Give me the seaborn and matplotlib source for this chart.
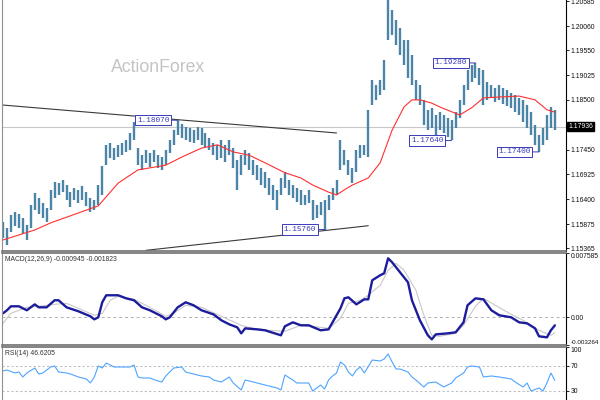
import numpy as np
import pandas as pd
import matplotlib
matplotlib.use("Agg")
import matplotlib.pyplot as plt
import seaborn as sns

# ---- price bars (4h) ----
bar_high = [1.1592, 1.1579, 1.1607, 1.1613, 1.1609, 1.1600, 1.1586, 1.1628, 1.1653, 1.1643,
            1.1632, 1.1622, 1.1660, 1.1677, 1.1674, 1.1681, 1.1670, 1.1655, 1.1664, 1.1660,
            1.1668, 1.1655, 1.1643, 1.1638, 1.1670, 1.1710, 1.1755, 1.1759, 1.1748, 1.1755,
            1.1759, 1.1765, 1.1780, 1.1803, 1.1748, 1.1733, 1.1744, 1.1738, 1.1744, 1.1733,
            1.1729, 1.1744, 1.1765, 1.1786, 1.1807, 1.1799, 1.1793, 1.1791, 1.1786, 1.1793,
            1.1791, 1.1780, 1.1769, 1.1759, 1.1755, 1.1765, 1.1755, 1.1765, 1.1748, 1.1723,
            1.1733, 1.1744, 1.1738, 1.1723, 1.1712, 1.1706, 1.1698, 1.1685, 1.1670, 1.1660,
            1.1685, 1.1698, 1.1681, 1.1670, 1.1664, 1.1660, 1.1649, 1.1660, 1.1638, 1.1628,
            1.1634, 1.1638, 1.1649, 1.1664, 1.1681, 1.1765, 1.1744, 1.1723, 1.1706, 1.1744,
            1.1755, 1.1755, 1.1829, 1.1892, 1.1881, 1.1892, 1.1934, 1.2060, 1.2040, 1.2019,
            1.2002, 1.1976, 1.1976, 1.1945, 1.1892, 1.1881, 1.1850, 1.1829, 1.1833, 1.1818,
            1.1824, 1.1818, 1.1812, 1.1807, 1.1824, 1.1850, 1.1881, 1.1913, 1.1924, 1.1928,
            1.1917, 1.1913, 1.1888, 1.1881, 1.1875, 1.1881, 1.1875, 1.1871, 1.1864, 1.1860,
            1.1854, 1.1850, 1.1839, 1.1824, 1.1797, 1.1776, 1.1791, 1.1818, 1.1835, 1.1829]
bar_low = [1.1558, 1.1543, 1.1571, 1.1583, 1.1579, 1.1567, 1.1554, 1.1579, 1.1617, 1.1609,
           1.1600, 1.1592, 1.1617, 1.1643, 1.1649, 1.1655, 1.1638, 1.1624, 1.1638, 1.1632,
           1.1638, 1.1626, 1.1613, 1.1617, 1.1628, 1.1649, 1.1712, 1.1727, 1.1723, 1.1729,
           1.1733, 1.1740, 1.1744, 1.1765, 1.1712, 1.1702, 1.1717, 1.1708, 1.1719, 1.1706,
           1.1702, 1.1712, 1.1738, 1.1755, 1.1776, 1.1769, 1.1765, 1.1761, 1.1759, 1.1765,
           1.1755, 1.1750, 1.1744, 1.1733, 1.1723, 1.1727, 1.1719, 1.1733, 1.1706, 1.1660,
           1.1691, 1.1712, 1.1702, 1.1691, 1.1681, 1.1670, 1.1664, 1.1649, 1.1638, 1.1617,
           1.1649, 1.1664, 1.1649, 1.1643, 1.1634, 1.1628, 1.1628, 1.1632, 1.1596, 1.1600,
           1.1607, 1.1576, 1.1617, 1.1638, 1.1649, 1.1702, 1.1712, 1.1691, 1.1674, 1.1698,
           1.1727, 1.1733, 1.1729, 1.1839, 1.1850, 1.1860, 1.1871, 1.1976, 1.1987, 1.1966,
           1.1945, 1.1924, 1.1896, 1.1881, 1.1850, 1.1839, 1.1797, 1.1786, 1.1791, 1.1776,
           1.1786, 1.1780, 1.1772, 1.1765, 1.1791, 1.1812, 1.1839, 1.1871, 1.1888, 1.1896,
           1.1881, 1.1839, 1.1850, 1.1854, 1.1845, 1.1850, 1.1841, 1.1837, 1.1833, 1.1824,
           1.1818, 1.1803, 1.1791, 1.1776, 1.1755, 1.1740, 1.1755, 1.1765, 1.1791, 1.1786]
last_close = 1.17936

# moving average (red)
ma_idx = [0, 8, 12, 16, 24, 29, 34, 41, 45, 50, 54, 58, 62, 66, 71, 75, 78, 82, 84, 86,
          88, 92, 95, 98, 101, 103, 105, 108, 110, 115, 118, 121, 125, 130, 134, 137, 139]
ma_val = [1.1554, 1.1575, 1.1590, 1.1602, 1.1626, 1.1674, 1.1702, 1.1712, 1.1729, 1.1748,
          1.1755, 1.1740, 1.1733, 1.1717, 1.1696, 1.1685, 1.1670, 1.1655, 1.1649, 1.1660,
          1.1670, 1.1685, 1.1717, 1.1786, 1.1835, 1.1850, 1.1850, 1.1843, 1.1835, 1.1818,
          1.1833, 1.1854, 1.1856, 1.1858, 1.1850, 1.1829, 1.1824]

# trend lines
upper_idx = [0, 84]
upper_val = [1.1839, 1.1780]
lower_idx = [36, 92]
lower_val = [1.1532, 1.1584]

# swing labels
swing_text = ["1.18070", "1.15760", "1.17640", "1.19280", "1.17400"]
swing_idx = [44, 81, 113, 119, 135]
swing_val = [1.1807, 1.1576, 1.1764, 1.1928, 1.1740]

price_ticks = [1.20585, 1.20060, 1.19550, 1.19025, 1.18500,
               1.17450, 1.16925, 1.16400, 1.15875, 1.15365]

# MACD(12,26,9)
macd_idx = [0, 1, 2, 4, 6, 8, 9, 11, 13, 14, 16, 19, 22, 23, 24, 25, 26, 29, 31, 33,
            35, 37, 40, 41, 42, 44, 46, 48, 50, 53, 55, 57, 59, 60, 61, 64, 66, 70, 71, 73,
            75, 77, 80, 82, 83, 85, 86, 87, 89, 91, 92, 93, 95, 96, 97, 98, 100, 102, 103, 105,
            107, 108, 109, 112, 114, 116, 117, 119, 121, 123, 125, 128, 130, 132, 134, 135, 137, 138, 139]
macd_val = [0.00047, 0.00083, 0.00130, 0.00130, 0.00083, 0.00153, 0.00118, 0.00118, 0.00201, 0.00201,
            0.00118, 0.00071, 0.00012, -0.00024, 0.0, 0.00177, 0.00260, 0.00260, 0.00224, 0.00201,
            0.00118, 0.00083, 0.00012, -0.00024, 0.0, 0.00118, 0.00177, 0.00142, 0.00083, 0.00035,
            -0.00035, -0.00083, -0.00118, -0.00189, -0.00130, -0.00142, -0.00153, -0.00212, -0.00106, -0.00059,
            -0.00094, -0.00094, -0.00153, -0.00142, -0.00059, 0.00106, 0.00224, 0.00236, 0.00153, 0.00212,
            0.00212, 0.00437, 0.00496, 0.00519, 0.00696, 0.00649, 0.00531, 0.00413, 0.00201, -0.00035,
            -0.00212, -0.00260, -0.00201, -0.00189, -0.00177, -0.00059, 0.00142, 0.00224, 0.00212, 0.00083,
            0.00024, 0.0, -0.00059, -0.00071, -0.00130, -0.00224, -0.00236, -0.00153, -0.000945]
signal_idx = [0, 2, 6, 9, 13, 16, 19, 23, 25, 27, 29, 33, 37, 41, 43, 46, 50, 55, 60, 63,
              67, 71, 75, 80, 82, 85, 87, 90, 92, 95, 97, 99, 101, 104, 106, 108, 110, 114, 116, 119,
              121, 124, 128, 131, 135, 138, 139]
signal_val = [-0.00071, 0.00047, 0.00118, 0.00130, 0.00153, 0.00165, 0.00106, 0.00024, 0.00047, 0.00201,
              0.00248, 0.00212, 0.00118, 0.00012, 0.00047, 0.00142, 0.00118, 0.00012, -0.00094, -0.00130,
              -0.00153, -0.00165, -0.00094, -0.00118, -0.00130, -0.00012, 0.00165, 0.00201, 0.00260, 0.00378,
              0.00555, 0.00637, 0.00555, 0.00319, 0.00024, -0.00212, -0.00224, -0.00189, -0.00094, 0.00130,
              0.00224, 0.00142, 0.00035, -0.00035, -0.00153, -0.00212, -0.001823]
macd_ticks = [0.007585, 0.0, -0.003264]
macd_tick_labels = ["0.007585", "0.00", "-0.003264"]

# RSI(14)
rsi_idx = [0, 1, 3, 4, 5, 6, 8, 9, 10, 12, 13, 14, 16, 17, 19, 21, 22, 23, 24, 25,
           26, 28, 30, 32, 33, 34, 35, 37, 39, 40, 41, 43, 45, 46, 48, 50, 52, 53, 55, 57,
           58, 60, 61, 64, 66, 69, 70, 71, 73, 74, 75, 77, 78, 80, 81, 82, 83, 84, 85, 86,
           87, 88, 89, 90, 91, 93, 95, 96, 97, 98, 99, 100, 102, 103, 104, 106, 107, 109, 111, 113,
           114, 116, 117, 118, 120, 121, 123, 125, 128, 129, 131, 132, 133, 135, 136, 137, 138, 139]
rsi_val = [61.6, 63.2, 58.4, 60.0, 52.0, 58.4, 66.4, 56.8, 58.4, 68.0, 69.6, 60.0, 58.4, 56.8, 52.0,
           48.8, 42.4, 52.0, 69.6, 66.4, 74.4, 68.0, 68.0, 68.0, 71.2, 52.0, 50.4, 50.4, 45.6, 44.0,
           53.6, 66.4, 68.0, 60.0, 56.8, 53.6, 52.0, 47.2, 44.0, 52.0, 42.4, 31.2, 47.2, 42.4, 39.2,
           34.4, 31.2, 55.2, 47.2, 42.4, 42.4, 42.4, 29.6, 39.2, 32.8, 47.2, 53.6, 58.4, 76.0, 71.2,
           60.0, 53.6, 63.2, 68.0, 58.4, 79.2, 77.6, 80.8, 88.8, 76.0, 64.8, 64.8, 60.0, 52.0, 47.2,
           36.0, 42.4, 44.0, 36.0, 42.4, 50.4, 58.4, 68.0, 69.6, 68.0, 52.0, 53.6, 52.0, 48.8, 44.0,
           36.0, 42.4, 29.6, 34.4, 29.6, 42.4, 58.4, 46.62]
rsi_ticks = [100, 70, 30]

# ---- styling ----
sns.set_theme(style="white")
plt.rcParams['font.family'] = ['Liberation Sans', 'DejaVu Sans']

bar_color = "#4a84a6"
box_color = "#3a3ab8"
tick_size = 4.9

fig = plt.figure(figsize=(6, 4), dpi=100)
ax = fig.add_axes([2 / 600, 149 / 400, 564 / 600, 251 / 400])
ax_macd = fig.add_axes([2 / 600, 55 / 400, 564 / 600, 92 / 400], sharex=ax)
ax_rsi = fig.add_axes([2 / 600, 0, 564 / 600, 53 / 400], sharex=ax)

bars = pd.DataFrame({"idx": np.arange(len(bar_high)), "high": bar_high, "low": bar_low})

# price panel
ax.axhline(last_close, color="#c8c8c8", lw=0.8, zorder=0)
fig.text(0.263, 0.8325, "ActionForex", ha="center", va="center",
         fontsize=12.7, color="#c4c4c4")
ax.vlines(bars["idx"], bars["low"], bars["high"], color=bar_color, lw=1.7, zorder=2)
sns.lineplot(x=ma_idx, y=ma_val, ax=ax, color="#ff3030", lw=0.8, zorder=3)
sns.lineplot(x=upper_idx, y=upper_val, ax=ax, color="#3a3a3a", lw=0.8, zorder=1)
sns.lineplot(x=lower_idx, y=lower_val, ax=ax, color="#3a3a3a", lw=0.8, zorder=1)

for txt, i, v in zip(swing_text, swing_idx, swing_val):
    ax.annotate(txt, xy=(i, v), xytext=(-6, 0), textcoords="offset points",
                ha="right", va="center", fontsize=5.6, color=box_color,
                family=["Liberation Mono", "DejaVu Sans Mono"],
                bbox=dict(boxstyle="square,pad=0.2", fc="white", ec=box_color, lw=0.7),
                arrowprops=dict(arrowstyle="-", color=box_color, lw=0.7,
                                shrinkA=0, shrinkB=0), zorder=5)

ax.set_xlim(-0.25, 141.8)
ax.set_ylim(1.15306, 1.2061)
ax.set_yticks(price_ticks)
ax.set_yticklabels([f"{t:.5f}" for t in price_ticks])
ax.text(1.004, last_close, f"{last_close:.5f}", transform=ax.get_yaxis_transform(),
        ha="left", va="center", fontsize=tick_size, color="white",
        bbox=dict(boxstyle="square,pad=0.2", fc="black", ec="black"))

# MACD panel
ax_macd.axhline(0, color="#b0b0b0", lw=0.7, ls=(0, (3, 3)))
sns.lineplot(x=signal_idx, y=signal_val, ax=ax_macd, color="#c8c8c8", lw=0.8)
sns.lineplot(x=macd_idx, y=macd_val, ax=ax_macd, color="#1c1c9c", lw=1.7)
ax_macd.set_ylim(-0.003264, 0.007585)
ax_macd.set_yticks(macd_ticks)
ax_macd.set_yticklabels(macd_tick_labels)
ax_macd.text(0.006, 0.93, "MACD(12,26,9) -0.000945 -0.001823", transform=ax_macd.transAxes,
             ha="left", va="center", fontsize=tick_size, color="#333333")

# RSI panel
for lvl in [70, 30]:
    ax_rsi.axhline(lvl, color="#c0c0c0", lw=0.8, ls=(0, (2, 2)))
sns.lineplot(x=rsi_idx, y=rsi_val, ax=ax_rsi, color="#4ea4ff", lw=0.8)
ax_rsi.set_ylim(15.2, 100)
ax_rsi.set_yticks(rsi_ticks)
ax_rsi.set_yticklabels([str(t) for t in rsi_ticks])
ax_rsi.text(0.006, 0.87, "RSI(14) 46.6205", transform=ax_rsi.transAxes,
            ha="left", va="center", fontsize=tick_size, color="#333333")

for a in [ax, ax_macd, ax_rsi]:
    a.set_xlabel("")
    a.set_ylabel("")
    a.set_xticks([])
    a.yaxis.tick_right()
    a.tick_params(axis="y", which="both", right=True, left=False, length=2.5, width=0.6,
                  color="black", labelsize=tick_size, labelcolor="#111111", pad=1)
    a.spines["right"].set_color("black")
    a.spines["right"].set_linewidth(0.8)
    a.spines["left"].set_color("#909090")
    a.spines["left"].set_linewidth(0.8)
    for s in ["top", "bottom"]:
        a.spines[s].set_color("#707070")
        a.spines[s].set_linewidth(1.2)
    if a.get_legend():
        a.get_legend().remove()

ax.spines["top"].set_visible(False)
ax_rsi.spines["bottom"].set_visible(False)

# MT4 puts the extreme labels inside the panel
macd_lbls = ax_macd.get_yticklabels()
macd_lbls[0].set_va("top")
macd_lbls[2].set_va("bottom")
macd_lbls[2].set_fontsize(4.5)
ax_rsi.get_yticklabels()[0].set_va("top")

fig.savefig("out.png", dpi=100)
